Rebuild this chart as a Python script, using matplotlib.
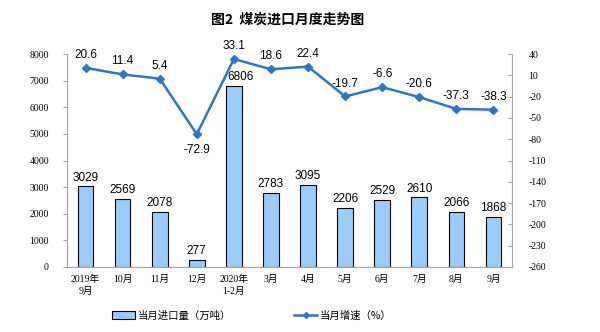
import matplotlib
matplotlib.use("Agg")
import matplotlib.pyplot as plt
from matplotlib.lines import Line2D
from matplotlib.patches import Patch

categories = ["2019年\n9月", "10月", "11月", "12月", "2020年\n1-2月", "3月", "4月",
              "5月", "6月", "7月", "8月", "9月"]
volume = [3029, 2569, 2078, 277, 6806, 2783, 3095, 2206, 2529, 2610, 2066, 1868]
growth = [20.6, 11.4, 5.4, -72.9, 33.1, 18.6, 22.4, -19.7, -6.6, -20.6, -37.3, -38.3]
left_ticks = list(range(0, 8001, 1000))
right_ticks = list(range(-260, 41, 30))

plt.rcParams['font.family'] = ['Liberation Sans', 'Noto Sans CJK SC']
serif = ['Liberation Serif', 'Noto Sans CJK SC']

fig = plt.figure(figsize=(6, 3.32), dpi=100)
ax = fig.add_axes([0.1117, 0.196, 0.7416, 0.641])
ax2 = ax.twinx()

x = list(range(len(categories)))
bar_color = "#99CCFF"
line_color = "#2E75C6"
spine_color = "#A6A6A6"

ax.bar(x, volume, width=0.42, color=bar_color, edgecolor="black", linewidth=0.8, zorder=2)
vmax = max(volume)
for xi, v in zip(x, volume):
    dx = 5 if v == vmax else 0
    ax.annotate(str(v), (xi, v), xytext=(dx, 2), textcoords="offset points",
                ha="center", va="bottom", fontsize=8.5)

ax2.plot(x, growth, color=line_color, linewidth=1.8, marker="D", markersize=4, zorder=3)
for xi, g in zip(x, growth):
    if g < -60:
        ax2.annotate(f"{g:.1f}", (xi, g), xytext=(0, -7), textcoords="offset points",
                     ha="center", va="top", fontsize=8.5)
    else:
        ax2.annotate(f"{g:.1f}", (xi, g), xytext=(0, 5), textcoords="offset points",
                     ha="center", va="bottom", fontsize=8.5)

ax.set_xlim(-0.5, len(categories) - 0.5)
ax.set_ylim(0, 8000)
ax2.set_ylim(-260, 40)
ax.set_yticks(left_ticks)
ax2.set_yticks(right_ticks)
ax.set_yticklabels([str(t) for t in left_ticks], family=serif, fontsize=7)
ax2.set_yticklabels([str(t) for t in right_ticks], family=serif, fontsize=7)
ax.set_xticks(x)
ax.set_xticklabels(categories, family=serif, fontsize=7, linespacing=1.3)
ax.tick_params(axis="x", length=0, pad=6)
ax.tick_params(axis="y", length=3, color=spine_color, pad=10)
ax2.tick_params(axis="y", length=3, color=spine_color, direction="in", pad=12)

for a in (ax, ax2):
    a.spines["top"].set_visible(False)
    for s in ("left", "right", "bottom"):
        a.spines[s].set_color(spine_color)
        a.spines[s].set_linewidth(0.8)

fig.text(0.48, 0.94, "图2  煤炭进口月度走势图", ha="center", va="center",
         fontsize=10, fontweight="bold", family=['Noto Sans CJK SC'])

handles = [Patch(facecolor=bar_color, edgecolor="black", linewidth=0.8),
           Line2D([0], [0], color=line_color, linewidth=1.8, marker="D", markersize=3)]
fig.legend(handles, ["当月进口量（万吨）", "当月增速（%）"], loc="center",
           bbox_to_anchor=(0.42, 0.05), ncol=2, frameon=False,
           columnspacing=6, handlelength=2.2, handletextpad=0.3,
           prop={'family': ['Noto Sans CJK SC'], 'size': 7.5})

fig.savefig("out.png", dpi=100)
